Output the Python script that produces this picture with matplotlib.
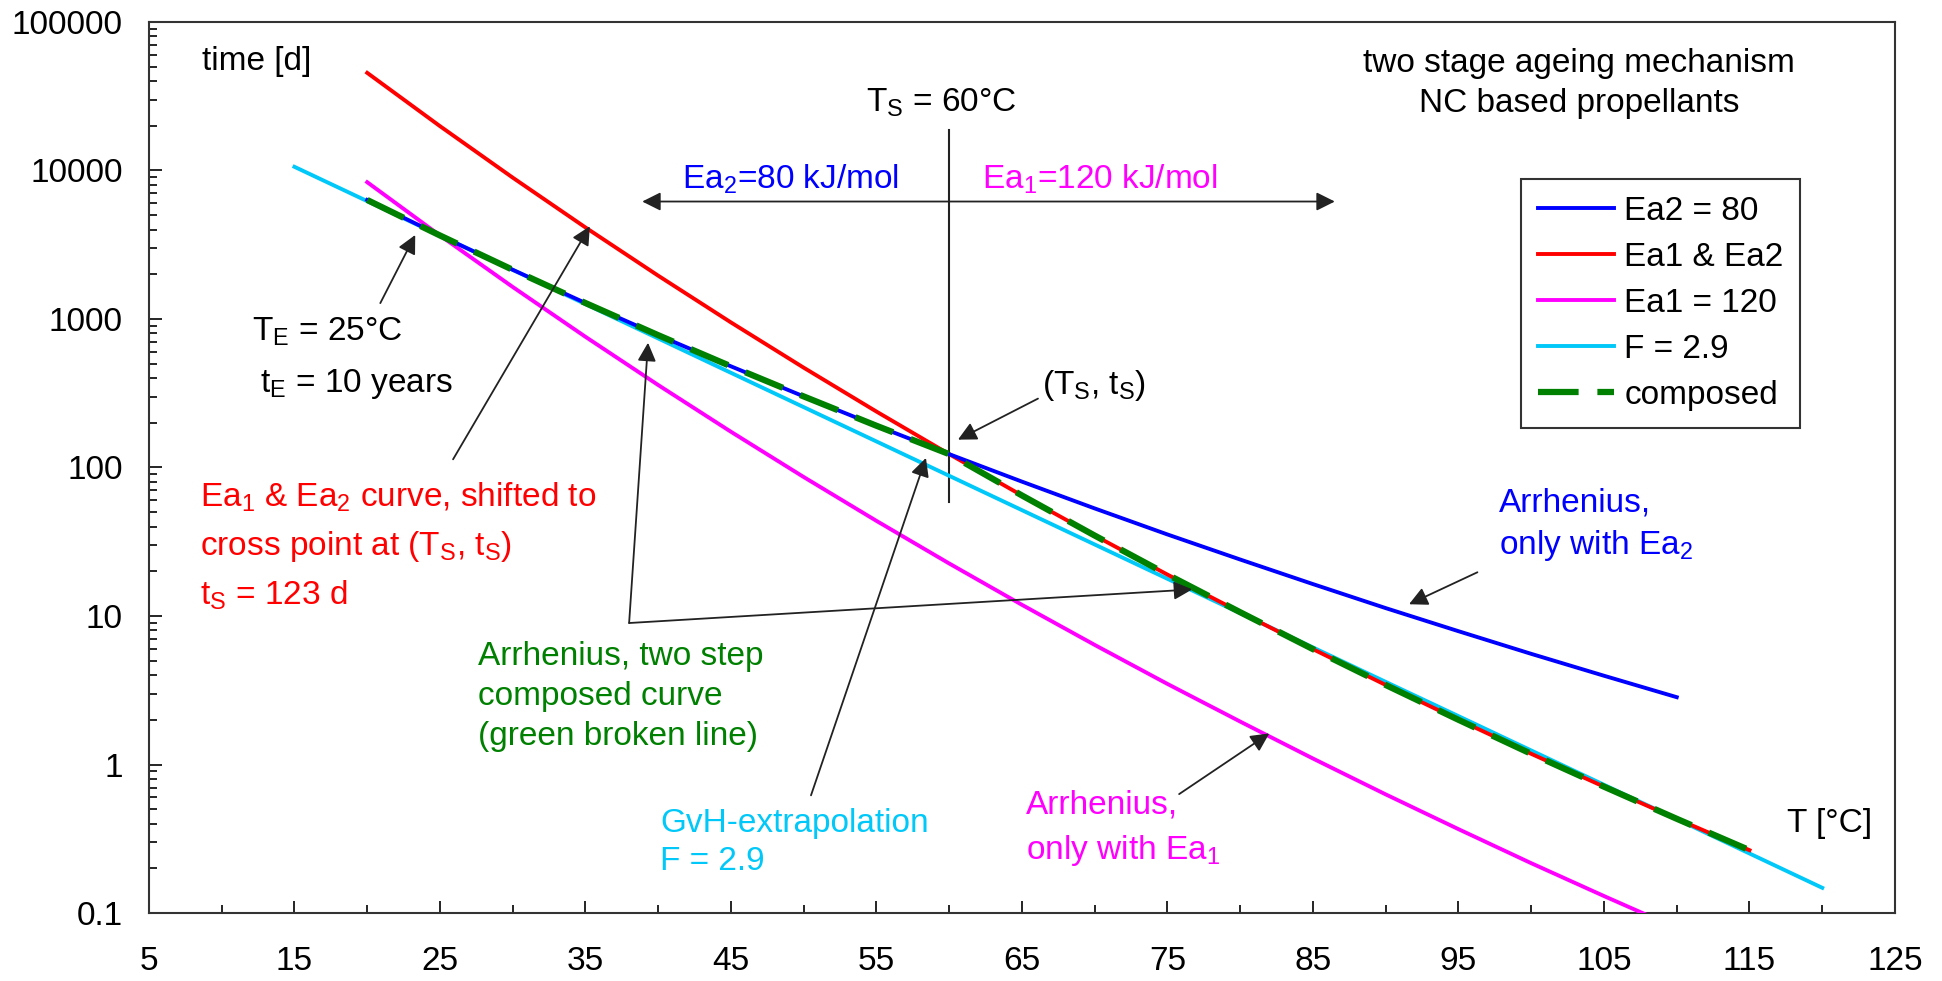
import matplotlib
matplotlib.use("Agg")
import matplotlib.pyplot as plt
from matplotlib.ticker import LogLocator, FixedLocator, NullFormatter

plt.rcParams['font.family'] = ['Liberation Sans', 'DejaVu Sans']
plt.rcParams['mathtext.default'] = 'regular'
plt.rcParams['font.size'] = 24

# temperatures [°C] and times [d]
T_blue = [20, 25, 30, 35, 40, 45, 50, 55, 60, 65, 70, 75, 80, 85, 90, 95, 100, 105, 110]
t_blue = [6331, 3651, 2144, 1281, 778, 480, 301, 191, 123, 80.3, 53.0, 35.4, 24.0,
          16.4, 11.3, 7.90, 5.56, 3.96, 2.84]

T_red = [20, 25, 30, 35, 40, 45, 50, 55, 60, 65, 70, 75, 80, 85, 90, 95, 100, 105, 110, 115]
t_red = [45440, 19890, 8952, 4134, 1957, 948, 470, 238, 123, 64.8, 34.8, 19.0, 10.6,
         5.98, 3.43, 2.00, 1.18, 0.709, 0.431, 0.265]

T_mag = [20, 25, 30, 35, 40, 45, 50, 55, 60, 65, 70, 75, 80, 85, 90, 95, 100, 105, 110]
t_mag = [8339, 3650, 1643, 758.6, 359.1, 174.0, 86.25, 43.7, 22.57, 11.89, 6.386, 3.487,
         1.945, 1.097, 0.629, 0.367, 0.2165, 0.1301, 0.0791]

T_cyan = [15, 20, 25, 30, 35, 40, 45, 50, 55, 60, 65, 70, 75, 80, 85, 90, 95, 100, 105,
          110, 115, 120]
t_cyan = [10585, 6216, 3650, 2143, 1259, 739.2, 434.0, 254.9, 149.7, 87.9, 51.6, 30.3,
          17.8, 10.45, 6.14, 3.60, 2.117, 1.243, 0.730, 0.4287, 0.2517, 0.1478]

T_comp = [20, 25, 30, 35, 40, 45, 50, 55, 60, 65, 70, 75, 80, 85, 90, 95, 100, 105, 110, 115]
t_comp = [6331, 3651, 2144, 1281, 778, 480, 301, 191, 123, 64.8, 34.8, 19.0, 10.6,
          5.98, 3.43, 2.00, 1.18, 0.709, 0.431, 0.265]

x_ticks = [5, 15, 25, 35, 45, 55, 65, 75, 85, 95, 105, 115, 125]
y_ticks = [0.1, 1, 10, 100, 1000, 10000, 100000]
y_labels = ['0.1', '1', '10', '100', '1000', '10000', '100000']

fig = plt.figure(figsize=(19.42, 9.81), dpi=100)
ax = fig.add_axes([0.0767, 0.0693, 0.8991, 0.9083])

c_blue, c_red, c_mag, c_cyan, c_green = '#0000FF', '#FF0000', '#FF00FF', '#00C8F8', '#008000'

ax.plot(T_cyan, t_cyan, color=c_cyan, lw=2.8, label='F = 2.9', zorder=3)
ax.plot(T_mag, t_mag, color=c_mag, lw=2.8, label='Ea1 = 120', zorder=3)
ax.plot(T_red, t_red, color=c_red, lw=2.8, label='Ea1 & Ea2', zorder=4)
ax.plot(T_blue, t_blue, color=c_blue, lw=2.8, label='Ea2 = 80', zorder=4)
ax.plot(T_comp, t_comp, color=c_green, lw=4.5, ls=(0, (6.5, 3)), label='composed', zorder=5)

ax.set_yscale('log')
ax.set_xlim(5, 125)
ax.set_ylim(0.1, 100000)
ax.set_xticks(x_ticks)
ax.xaxis.set_minor_locator(FixedLocator([10, 20, 30, 40, 50, 60, 70, 80, 90, 100, 110, 120]))
ax.set_yticks(y_ticks)
ax.set_yticklabels(y_labels)
ax.yaxis.set_minor_locator(LogLocator(base=10, subs=range(2, 10)))
ax.yaxis.set_minor_formatter(NullFormatter())
ax.tick_params(which='both', direction='in', top=False, right=False, width=1.2)
ax.tick_params(axis='x', which='major', length=9, pad=24)
ax.tick_params(axis='x', which='minor', length=6)
ax.tick_params(axis='y', which='major', length=9, pad=19)
ax.tick_params(axis='y', which='minor', length=6)
for s in ax.spines.values():
    s.set_linewidth(1.5)
    s.set_color('#333333')

h, l = ax.get_legend_handles_labels()
order = [3, 2, 1, 0, 4]
leg = ax.legend([h[i] for i in order], [l[i] for i in order], loc='upper left',
                bbox_to_anchor=(0.7858, 0.8234), fancybox=False, framealpha=1,
                edgecolor='#333333', handlelength=2.3, labelspacing=0.45,
                handletextpad=0.3, borderpad=0.5, borderaxespad=0)
leg.get_frame().set_linewidth(1.5)

tr = ax.transAxes
ax.text(0.0305, 0.9555, 'time [d]', transform=tr, ha='left', va='center')
ax.text(0.819, 0.931, 'two stage ageing mechanism\nNC based propellants', transform=tr,
        ha='center', va='center', linespacing=1.36)
ax.text(0.4539, 0.9096, r'T$_S$ = 60°C', transform=tr, ha='center', va='center')
ax.text(0.3674, 0.8234, r'Ea$_2$=80 kJ/mol', transform=tr, ha='center', va='center', color=c_blue)
ax.text(0.5447, 0.8234, r'Ea$_1$=120 kJ/mol', transform=tr, ha='center', va='center', color=c_mag)
ax.text(0.0589, 0.6523, r'T$_E$ = 25°C', transform=tr, ha='left', va='center')
ax.text(0.0638, 0.5939, r't$_E$ = 10 years', transform=tr, ha='left', va='center')
ax.text(0.0291, 0.4117, 'Ea$_1$ & Ea$_2$ curve, shifted to\ncross point at (T$_S$, t$_S$)\nt$_S$ = 123 d',
        transform=tr, ha='left', va='center', color=c_red, linespacing=1.58)
ax.text(0.1887, 0.2434, 'Arrhenius, two step\ncomposed curve\n(green broken line)',
        transform=tr, ha='left', va='center', color=c_green, linespacing=1.38)
ax.text(0.2929, 0.0793, 'GvH-extrapolation\nF = 2.9', transform=tr, ha='left', va='center',
        color=c_cyan, linespacing=1.3)
ax.text(0.5411, 0.5925, r'(T$_S$, t$_S$)', transform=tr, ha='center', va='center')
ax.text(0.7730, 0.4353, 'Arrhenius,\nonly with Ea$_2$', transform=tr, ha='left', va='center',
        color=c_blue, linespacing=1.38)
ax.text(0.5021, 0.0946, 'Arrhenius,\nonly with Ea$_1$', transform=tr, ha='left', va='center',
        color=c_mag, linespacing=1.45)
ax.text(0.9624, 0.1001, 'T [°C]', transform=tr, ha='center', va='center')

# T_S marker line and the two-sided Ea arrow
ax.plot([60, 60], [59, 18800], color='#222222', lw=1.5, zorder=2)
arw = dict(arrowstyle='-|>', mutation_scale=28, lw=1.3, color='#222222', shrinkA=0, shrinkB=0)
ax.annotate('', xy=(38.9, 6180), xytext=(86.5, 6180),
            arrowprops=dict(arw, arrowstyle='<|-|>'))

arrows = [((20.9, 1279), (23.3, 3680)),
          ((25.9, 113.5), (35.3, 4210)),
          ((38.0, 8.97), (39.3, 692)),
          ((38.0, 8.97), (76.7, 15.1)),
          ((50.5, 0.62), (58.4, 116)),
          ((66.1, 291), (60.6, 154)),
          ((96.3, 19.7), (91.6, 12.0)),
          ((75.8, 0.632), (82.0, 1.62))]
for tail, head in arrows:
    ax.annotate('', xy=head, xytext=tail, arrowprops=arw, zorder=6)

fig.savefig('out.png', dpi=100)
